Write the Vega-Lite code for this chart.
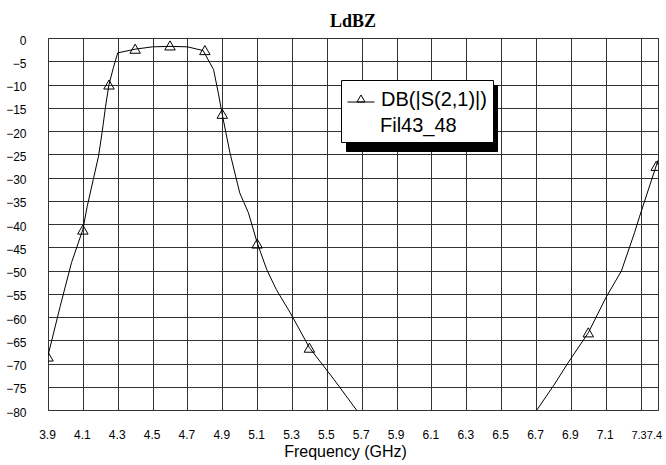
{
  "$schema": "https://vega.github.io/schema/vega-lite/v6.json",
  "width": 610,
  "height": 372,
  "autosize": {"type": "none"},
  "padding": {"left": 48, "top": 38, "right": 8, "bottom": 55},
  "background": "white",
  "title": {"text": "LdBZ", "font": "Liberation Serif", "fontSize": 18, "fontWeight": "bold", "anchor": "middle", "offset": 3, "color": "black"},
  "config": {
    "view": {"stroke": "#555", "strokeWidth": 1},
    "axis": {"labelFont": "Liberation Sans", "labelFontSize": 12, "labelColor": "black", "gridColor": "#333", "gridWidth": 1, "gridOpacity": 1, "domain": false, "ticks": false, "tickSize": 0, "labelOverlap": false, "tickCount": 100}
  },
  "datasets": {
    "curve": [
      {"freq": 3.9, "db": -68.3, "seg": "a"},
      {"freq": 3.97, "db": -57.7, "seg": "a"},
      {"freq": 4.035, "db": -48.3, "seg": "a"},
      {"freq": 4.1, "db": -41.2, "seg": "a"},
      {"freq": 4.125, "db": -36.2, "seg": "a"},
      {"freq": 4.16, "db": -30.4, "seg": "a"},
      {"freq": 4.19, "db": -25.4, "seg": "a"},
      {"freq": 4.21, "db": -20.4, "seg": "a"},
      {"freq": 4.233, "db": -14.0, "seg": "a"},
      {"freq": 4.25, "db": -10.0, "seg": "a"},
      {"freq": 4.275, "db": -6.4, "seg": "a"},
      {"freq": 4.3, "db": -3.2, "seg": "a"},
      {"freq": 4.4, "db": -2.4, "seg": "a"},
      {"freq": 4.5, "db": -1.9, "seg": "a"},
      {"freq": 4.6, "db": -1.8, "seg": "a"},
      {"freq": 4.7, "db": -1.9, "seg": "a"},
      {"freq": 4.79, "db": -2.7, "seg": "a"},
      {"freq": 4.85, "db": -6.8, "seg": "a"},
      {"freq": 4.877, "db": -11.8, "seg": "a"},
      {"freq": 4.9, "db": -16.5, "seg": "a"},
      {"freq": 4.944, "db": -24.7, "seg": "a"},
      {"freq": 5.0, "db": -33.3, "seg": "a"},
      {"freq": 5.05, "db": -37.6, "seg": "a"},
      {"freq": 5.1, "db": -44.0, "seg": "a"},
      {"freq": 5.155, "db": -49.8, "seg": "a"},
      {"freq": 5.21, "db": -54.1, "seg": "a"},
      {"freq": 5.29, "db": -59.1, "seg": "a"},
      {"freq": 5.4, "db": -66.6, "seg": "a"},
      {"freq": 5.54, "db": -73.4, "seg": "a"},
      {"freq": 5.67, "db": -80.0, "seg": "a"},
      {"freq": 6.705, "db": -80.0, "seg": "b"},
      {"freq": 6.8, "db": -74.8, "seg": "b"},
      {"freq": 6.89, "db": -69.5, "seg": "b"},
      {"freq": 7.0, "db": -63.4, "seg": "b"},
      {"freq": 7.1, "db": -55.9, "seg": "b"},
      {"freq": 7.19, "db": -50.1, "seg": "b"},
      {"freq": 7.265, "db": -41.9, "seg": "b"},
      {"freq": 7.295, "db": -38.3, "seg": "b"},
      {"freq": 7.4, "db": -26.3, "seg": "b"}
    ],
    "markers": [
      {"freq": 3.9, "db": -68.5},
      {"freq": 4.1, "db": -41.2},
      {"freq": 4.25, "db": -10.0},
      {"freq": 4.4, "db": -2.3},
      {"freq": 4.6, "db": -1.6},
      {"freq": 4.8, "db": -2.6},
      {"freq": 4.9, "db": -16.3},
      {"freq": 5.1, "db": -44.2},
      {"freq": 5.4, "db": -66.6},
      {"freq": 7.0, "db": -63.3},
      {"freq": 7.39, "db": -27.5}
    ]
  },
  "layer": [
    {
      "data": {"name": "curve"},
      "mark": {"type": "line", "strokeWidth": 1, "clip": true},
      "encoding": {
        "x": {"field": "freq", "type": "quantitative", "scale": {"domain": [3.9, 7.4], "nice": false, "zero": false},
          "axis": {"values": [3.9, 4.1, 4.3, 4.5, 4.7, 4.9, 5.1, 5.3, 5.5, 5.7, 5.9, 6.1, 6.3, 6.5, 6.7, 6.9, 7.1, 7.3, 7.4], "tickCount": 100, "format": ".1f", "labelPadding": 19, "labelAlign": "center",
            "labelFontSize": {"condition": {"test": "datum.value >= 7.29", "value": 11}, "value": 12},
            "labelOffset": {"condition": [{"test": "datum.value >= 7.39", "value": -4}, {"test": "datum.value >= 7.29", "value": -2}], "value": -1},
            "title": "Frequency (GHz)", "titleFont": "Liberation Sans", "titleFontSize": 16, "titleFontWeight": "normal", "titleColor": "black", "titlePadding": 3, "titleX": 297}},
        "y": {"field": "db", "type": "quantitative", "scale": {"domain": [-80, 0], "nice": false, "zero": false},
          "axis": {"values": [0, -5, -10, -15, -20, -25, -30, -35, -40, -45, -50, -55, -60, -65, -70, -75, -80], "tickCount": 100, "labelPadding": 22, "labelOffset": 2, "title": null}},
        "detail": {"field": "seg"},
        "color": {"datum": "DB(|S(2,1)|)", "scale": {"range": ["black"]},
          "legend": {"orient": "none", "legendX": 293, "legendY": 42, "zindex": 2, "title": "Fil43_48", "titleOrient": "bottom", "titleFont": "Liberation Sans", "titleFontSize": 20, "titleFontWeight": "normal", "titleColor": "black", "titlePadding": 6, "labelExpr": "datum.label + '\u2009'", "labelFont": "Liberation Sans", "labelFontSize": 20, "labelColor": "black", "labelOffset": 6, "symbolType": "M-1,0.15H1M0,-0.37L0.3,0.15L-0.3,0.15Z", "symbolSize": 729, "symbolStrokeColor": "black", "symbolFillColor": "transparent", "symbolStrokeWidth": 1, "padding": 6, "strokeColor": "black", "fillColor": "white",
            "encode": {"title": {"update": {"dx": {"value": 33}}}}}}
      }
    },
    {
      "data": {"name": "markers"},
      "mark": {"type": "point", "filled": false, "size": 110, "stroke": "black", "strokeWidth": 1, "clip": true, "opacity": 1},
      "encoding": {
        "x": {"field": "freq", "type": "quantitative"},
        "y": {"field": "db", "type": "quantitative"},
        "shape": {"datum": "shadow", "scale": {"range": ["triangle-up"]},
          "legend": {"orient": "none", "legendX": 298, "legendY": 47, "zindex": 1, "title": "\u00a0", "titleOrient": "bottom", "titleFont": "Liberation Sans", "titleFontSize": 20, "titleFontWeight": "normal", "titleColor": "black", "titlePadding": 6, "labelExpr": "'\u00a0'", "labelFont": "Liberation Sans", "labelFontSize": 20, "labelColor": "black", "labelOffset": 111, "symbolType": "M-1,0.15H1M0,-0.37L0.3,0.15L-0.3,0.15Z", "symbolSize": 729, "symbolStrokeColor": "black", "symbolFillColor": "black", "symbolStrokeWidth": 1, "padding": 6, "strokeColor": "black", "fillColor": "black"}}
      }
    }
  ]
}
